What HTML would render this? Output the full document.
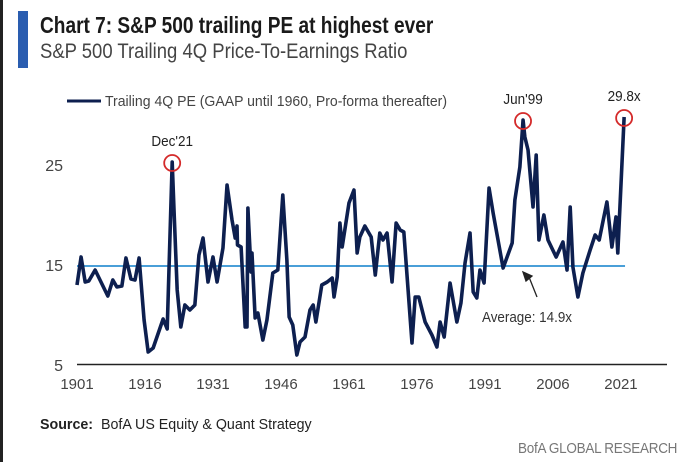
<!DOCTYPE html>
<html><head><meta charset="utf-8"><style>
body{margin:0;width:680px;height:462px;background:#fff;overflow:hidden;position:relative;font-family:"Liberation Sans",sans-serif}
.t{position:absolute;white-space:nowrap;transform-origin:0 0}
</style></head><body>
<div style="position:absolute;left:0;top:0;width:3px;height:462px;background:#222"></div>
<div style="position:absolute;left:18px;top:11px;width:10px;height:57px;background:#2a5db0"></div>
<div class="t" style="left:40px;top:12px;font-size:23px;font-weight:bold;color:#1a1a1a;transform:scaleX(0.83)">Chart 7: S&amp;P 500 trailing PE at highest ever</div>
<div class="t" style="left:40px;top:40px;font-size:21px;color:#444;transform:scaleX(0.88)">S&amp;P 500 Trailing 4Q Price-To-Earnings Ratio</div>
<svg width="680" height="462" style="position:absolute;left:0;top:0" id="svg"></svg>
<div class="t" style="left:40px;top:416px;font-size:15px;color:#222;transform:scaleX(0.95)"><b>Source:</b>&nbsp; BofA US Equity &amp; Quant Strategy</div>
<div class="t" style="left:518px;top:440px;font-size:15px;color:#777;letter-spacing:-0.3px;transform:scaleX(0.9)">BofA GLOBAL RESEARCH</div>
<script>
const years=[1901,1901.9,1902.8,1903.6,1905,1907.8,1908.9,1909.8,1910.9,1911.8,1912.9,1913.8,1914.7,1915.8,1916.7,1917.8,1920,1920.9,1922,1922.4,1923.1,1923.9,1924.8,1925.9,1927,1927.9,1928.8,1929.9,1931,1931.9,1933.2,1934.1,1935.2,1935.9,1936.3,1936.4,1937.2,1938.1,1938.5,1938.7,1939.4,1939.6,1940.3,1940.9,1942,1942.9,1943.4,1944.2,1945.3,1946.4,1947.3,1947.8,1948.6,1949.5,1950.2,1951.3,1952.4,1953.1,1953.7,1955,1956.2,1957.3,1957.7,1958.4,1959,1959.5,1961,1962.1,1962.8,1963.4,1964.5,1965.9,1966.8,1967.8,1968.5,1969.4,1970.5,1971.4,1972.3,1973.1,1974.9,1975.6,1976.4,1977.8,1979.3,1980.4,1981.1,1982,1983.3,1984.8,1985.7,1986.6,1987.7,1988.4,1989.2,1989.9,1990.8,1991.9,1992.8,1995,1997,1997.6,1998.7,1999.4,1999.8,2000.5,2001.6,2002.3,2002.9,2004,2004.9,2006.7,2008.2,2009.1,2009.8,2010.4,2011.5,2012.6,2014.2,2015.3,2016.2,2017.9,2019,2019.9,2020.3,2021.7];
const pe=[13,15.8,13.3,13.4,14.5,11.9,13.5,12.8,12.9,15.7,13.6,13.5,15.7,9.5,6.3,6.7,9.6,8.6,25.3,20.5,12.5,8.8,11,10.5,11,16,17.7,13.3,15.8,13.3,16.7,23,19.5,17.7,18.9,17,16.8,8.8,8.8,20.7,14.3,16.2,9.7,10.2,7.5,9.5,11.3,14.2,14.5,22,15.5,9.8,9,6,7.3,7.8,10.5,11,9.3,13,13.3,13.7,11.8,13.8,19.2,16.8,21.2,22.5,16.2,17.8,18.9,17.8,14,18.2,17.5,18.2,13.3,19.2,18.5,18.3,7.2,11.8,11.8,9.3,8,6.8,9.3,7.8,13.2,9.3,11.2,15.2,18.2,12.3,11.7,14.5,13.2,22.7,20.2,14.7,17.2,21.5,24.8,29.5,27.8,26.5,20.8,26,17.5,20,17.5,15.8,17.3,14.5,20.8,14.8,11.8,14.2,16.5,18,17.5,21.3,16.8,19.8,16.2,29.8];
const yTicks=[5,15,25];
const xTicks=[1901,1916,1931,1946,1961,1976,1991,2006,2021];
const average=[14.9];
const annotations=[{label:"Dec'21",year:1922,value:25.3},{label:"Jun'99",year:1999.4,value:29.5},{label:"29.8x",year:2021.7,value:29.8}];
const X=y=>77+(y-1901)*4.533, Y=v=>265-(v-15)*10;
const svg=document.getElementById('svg'),NS='http://www.w3.org/2000/svg';
function mk(tag,a,txt){const e=document.createElementNS(NS,tag);for(const k in a)e.setAttribute(k,a[k]);if(txt!=null)e.textContent=txt;svg.appendChild(e);return e;}
const F='"Liberation Sans",sans-serif';
yTicks.forEach(v=>{const e=mk('text',{x:63,y:Y(v)+6,'text-anchor':'end','font-size':16,fill:'#444','font-family':F},v);

});
xTicks.forEach(v=>{const e=mk('text',{x:X(v),y:389,'text-anchor':'middle','font-size':15,fill:'#444','font-family':F},v);

});
let ax=mk('line',{x1:77,x2:667,y1:Y(5)-0.5,y2:Y(5)-0.5,stroke:'#222','stroke-width':1.5});


let av=mk('line',{x1:X(1901),x2:X(2021.9),y1:Y(average[0]),y2:Y(average[0]),stroke:'#4a9fd8','stroke-width':2});


let p=mk('polyline',{points:years.map((y,i)=>X(y)+','+Y(pe[i])).join(' '),fill:'none',stroke:'#0d1f4f','stroke-width':3.6,'stroke-linejoin':'round'});


annotations.forEach(a=>{const c=mk('circle',{cx:X(a.year),cy:Y(a.value)+1,r:8,fill:'none',stroke:'#d42a2a','stroke-width':1.8});


const t=mk('text',{x:X(a.year),y:Y(a.value)-16,'text-anchor':'middle','font-size':15,fill:'#222','font-family':F,transform:`translate(${X(a.year)*0.1},0) scale(0.9,1)`},a.label);

});
let ll=mk('line',{x1:67,x2:101,y1:101,y2:101,stroke:'#0d1f4f','stroke-width':3});


let lt=mk('text',{x:105,y:106,'font-size':15,fill:'#444','font-family':F,textLength:342,lengthAdjust:'spacingAndGlyphs'},'Trailing 4Q PE (GAAP until 1960, Pro-forma thereafter)');


let ar=mk('path',{d:'M537,297 L529,277 M523,272 L532,276 L526,281 Z',stroke:'#222','stroke-width':1.3,fill:'#222'});


let at=mk('text',{x:527,y:322,'text-anchor':'middle','font-size':15,fill:'#333','font-family':F,textLength:90,lengthAdjust:'spacingAndGlyphs'},'Average: 14.9x');


</script>
</body></html>
